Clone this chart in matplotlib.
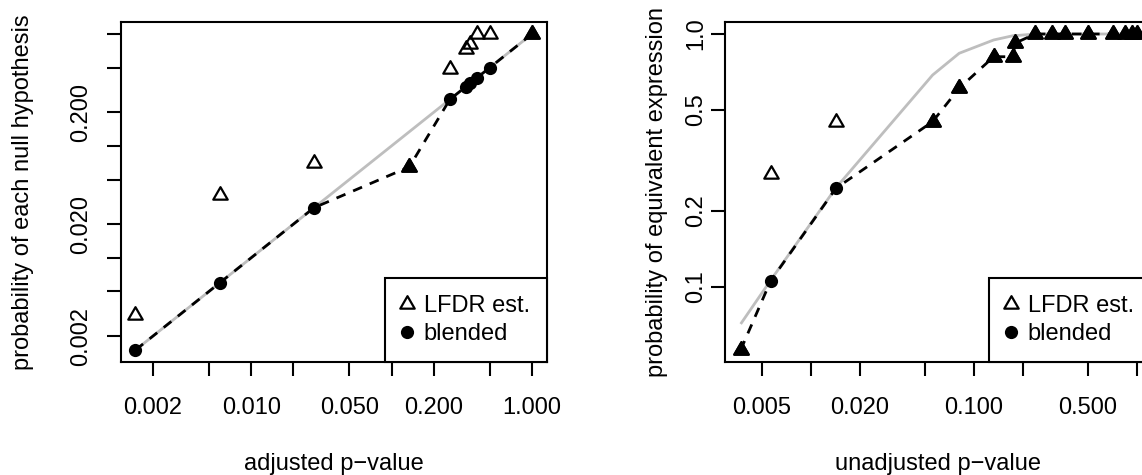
import numpy as np
import matplotlib
matplotlib.use('Agg')
import matplotlib.pyplot as plt
from matplotlib.path import Path
from matplotlib.lines import Line2D
from matplotlib.ticker import NullLocator

plt.rcParams['font.family'] = ['Liberation Sans', 'DejaVu Sans']

# ---------------- data ----------------
# left panel: adjusted p-values
left_p = [0.0015, 0.0060, 0.028, 0.134, 0.26, 0.338, 0.362, 0.405, 0.50, 1.0]
left_lfdr = [0.0031, 0.0363, 0.0705, 0.065, 0.49, 0.73, 0.82, 1.0, 1.0, 1.0]
left_blended = [0.0015, 0.0060, 0.028, 0.065, 0.26, 0.338, 0.362, 0.405, 0.50, 1.0]
left_curve = [0.0015, 0.0060, 0.028, 0.134, 0.26, 0.338, 0.362, 0.405, 0.50, 1.0]

# right panel: unadjusted p-values
right_p = [0.0037, 0.00565, 0.0142, 0.0557, 0.0811, 0.132, 0.174, 0.178,
           0.237, 0.299, 0.361, 0.502, 0.714, 0.843, 0.927, 1.0]
right_lfdr = [0.0562, 0.279, 0.45, 0.45, 0.61, 0.813, 0.813, 0.919,
              1.0, 1.0, 1.0, 1.0, 1.0, 1.0, 1.0, 1.0]
right_blended = [0.0562, 0.1054, 0.245, 0.45, 0.61, 0.813, 0.813, 0.919,
                 1.0, 1.0, 1.0, 1.0, 1.0, 1.0, 1.0, 1.0]
right_curve = [0.0712, 0.106, 0.246, 0.688, 0.839, 0.947, 0.985, 0.985,
               1.0, 1.0, 1.0, 1.0, 1.0, 1.0, 1.0, 1.0]

left_xticks = [0.002, 0.005, 0.01, 0.02, 0.05, 0.1, 0.2, 0.5, 1.0]
left_xlabels = ['0.002', '', '0.010', '', '0.050', '', '0.200', '', '1.000']
left_yticks = [0.002, 0.005, 0.01, 0.02, 0.05, 0.1, 0.2, 0.5, 1.0]
left_ylabels = ['0.002', '', '', '0.020', '', '', '0.200', '', '']
right_xticks = [0.005, 0.01, 0.02, 0.05, 0.1, 0.2, 0.5, 1.0]
right_xlabels = ['0.005', '', '0.020', '', '0.100', '', '0.500', '']
right_yticks = [0.1, 0.2, 0.5, 1.0]
right_ylabels = ['0.1', '0.2', '0.5', '1.0']

# ---------------- style ----------------
W, H = 1142, 475
FS = 17
GREY = '#bebebe'
tri = Path([(0, 1), (-0.866, -0.5), (0.866, -0.5), (0, 1)],
           [Path.MOVETO, Path.LINETO, Path.LINETO, Path.CLOSEPOLY])
TRI_MS, TRI_MEW = 12, 1.6
DOT_MS = 9.5

fig = plt.figure(figsize=(W / 100, H / 100), dpi=100)
fig.patch.set_facecolor('white')


def px_axes(x0, y0, w, h):
    return fig.add_axes([x0 / W, 1 - (y0 + h) / H, w / W, h / H])


def draw_panel(ax, p, lfdr, blended, curve):
    p = np.asarray(p)
    lfdr = np.asarray(lfdr)
    blended = np.asarray(blended)
    ax.plot(p, curve, color=GREY, lw=2, zorder=2, solid_capstyle='butt')
    ax.plot(p, blended, color='black', lw=2, dashes=(3.5, 3), zorder=3)
    ax.plot(p, lfdr, linestyle='none', marker=tri, ms=TRI_MS, mew=TRI_MEW,
            mfc='none', mec='black', zorder=4)
    same = np.isclose(lfdr, blended)
    ax.plot(p[~same], blended[~same], linestyle='none', marker='o', ms=DOT_MS,
            mfc='black', mec='black', mew=0, zorder=5)
    ax.plot(p[same], blended[same], linestyle='none', marker=tri, ms=TRI_MS,
            mfc='black', mec='black', mew=TRI_MEW, zorder=5)
    handles = [Line2D([], [], linestyle='none', marker=tri, ms=TRI_MS, mew=TRI_MEW,
                      mfc='none', mec='black'),
               Line2D([], [], linestyle='none', marker='o', ms=DOT_MS, mfc='black',
                      mec='black', mew=0)]
    leg = ax.legend(handles, ['LFDR est.', 'blended'], loc='lower right',
                    borderaxespad=0, fancybox=False, fontsize=FS,
                    borderpad=0.73, labelspacing=0.25, handlelength=0.4,
                    handletextpad=0.5, framealpha=1, edgecolor='black')
    leg.get_frame().set_linewidth(1.5)
    leg.set_zorder(10)


def style_axes(ax, xlim, ylim, xt, xl, yt, yl, ypad):
    ax.set_xscale('log')
    ax.set_yscale('log')
    ax.set_xlim(*xlim)
    ax.set_ylim(*ylim)
    ax.set_xticks(xt)
    ax.set_xticklabels(xl)
    ax.set_yticks(yt)
    ax.set_yticklabels(yl, rotation=90, va='center')
    ax.xaxis.set_minor_locator(NullLocator())
    ax.yaxis.set_minor_locator(NullLocator())
    ax.tick_params(axis='both', which='major', direction='out', length=10,
                   width=1.5, labelsize=FS, color='black')
    ax.tick_params(axis='x', pad=15)
    ax.tick_params(axis='y', pad=ypad)
    for s in ax.spines.values():
        s.set_linewidth(1.5)
        s.set_color('black')


ax1 = px_axes(121, 22, 426, 340)
draw_panel(ax1, left_p, left_lfdr, left_blended, left_curve)
style_axes(ax1, (10 ** -2.927, 10 ** 0.107), (10 ** -2.931, 10 ** 0.107),
           left_xticks, left_xlabels, left_yticks, left_ylabels, 11)

ax2 = px_axes(725, 22, 426, 340)
draw_panel(ax2, right_p, right_lfdr, right_blended, right_curve)
style_axes(ax2, (10 ** -2.528, 10 ** 0.086), (10 ** -1.298, 10 ** 0.0475),
           right_xticks, right_xlabels, right_yticks, right_ylabels, 3)

fig.text(334 / W, 1 - 464 / H, 'adjusted p\u2212value', ha='center', va='center', fontsize=FS)
fig.text(938 / W, 1 - 464 / H, 'unadjusted p\u2212value', ha='center', va='center', fontsize=FS)
fig.text(23 / W, 1 - 192 / H, 'probability of each null hypothesis', ha='center',
         va='center', rotation=90, fontsize=FS)
fig.text(657 / W, 1 - 192 / H, 'probability of equivalent expression', ha='center',
         va='center', rotation=90, fontsize=FS)

fig.savefig('out.png', dpi=100, facecolor='white')
